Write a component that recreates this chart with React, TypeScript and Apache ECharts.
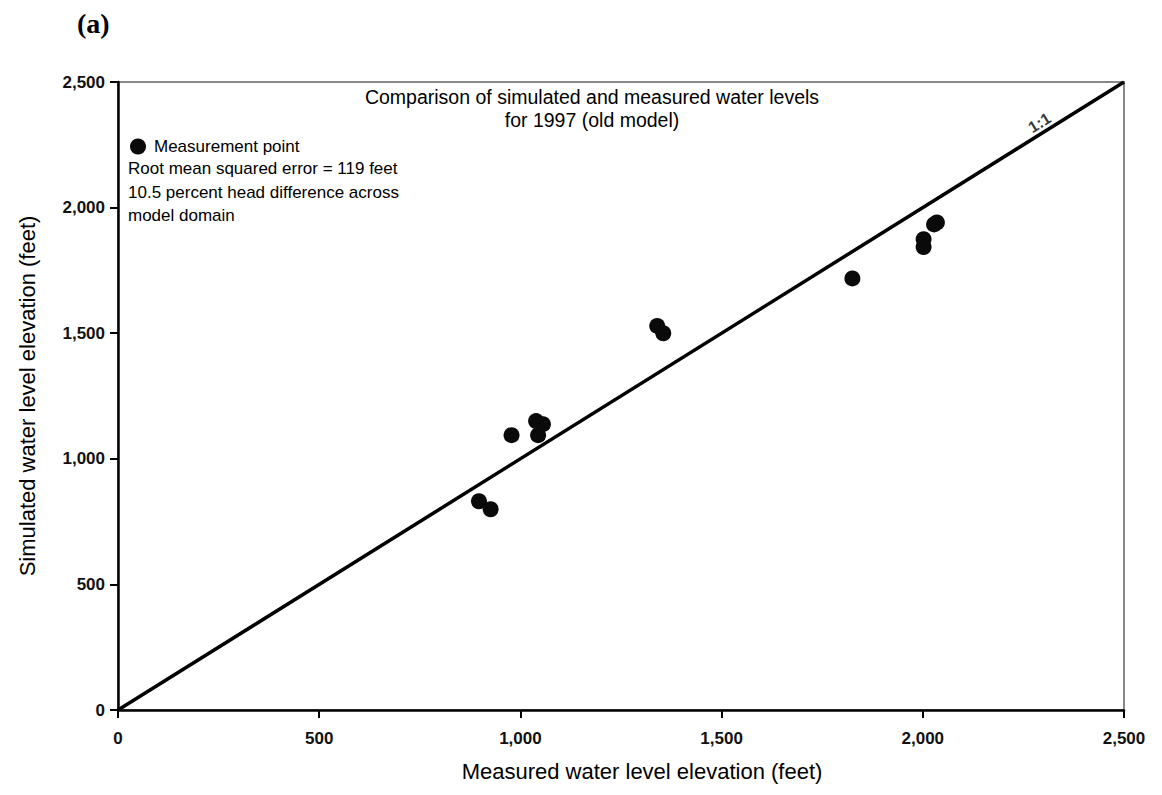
import React, { useEffect, useRef } from "react";
import * as echarts from "echarts";

const measured = [897, 926, 978, 1039, 1056, 1044, 1340, 1355, 1825, 2002, 2002, 2028, 2035];
const simulated = [831, 799, 1094, 1150, 1138, 1094, 1529, 1500, 1718, 1874, 1843, 1933, 1941];
const oneToOneX = [0, 2500];
const oneToOneY = [0, 2500];
const titleLines = ["Comparison of simulated and measured water levels", "for 1997 (old model)"];
const statLines = [
  "Root mean squared error = 119 feet",
  "10.5 percent head difference across",
  "model domain",
];

const FONT = "'Liberation Sans', Arial, sans-serif";

export default function App() {
  const ref = useRef<HTMLDivElement>(null);
  useEffect(() => {
    if (!ref.current) return;
    const chart = echarts.init(ref.current, null, { renderer: "svg" });
    const pts = measured.map((m, i) => [m, simulated[i]]);
    const line = oneToOneX.map((x, i) => [x, oneToOneY[i]]);
    chart.setOption({
      animation: false,
      backgroundColor: "#fff",
      textStyle: { fontFamily: FONT, color: "#000" },
      grid: {
        left: 96,
        top: 74,
        right: 30,
        bottom: 69,
        show: true,
        borderColor: "#888",
        borderWidth: 2,
        containLabel: false,
      },
      legend: {
        left: 117,
        top: 125,
        itemWidth: 16,
        itemHeight: 16,
        itemGap: 6,
        data: [{ name: "Measurement point", icon: "circle" }],
        textStyle: { fontFamily: FONT, fontSize: 17, color: "#000", padding: [0, 0, 0, 3] },
      },
      xAxis: {
        type: "value",
        min: 0,
        max: 2500,
        interval: 500,
        name: "Measured water level elevation (feet)",
        nameLocation: "middle",
        nameGap: 50,
        nameTextStyle: { fontFamily: FONT, fontSize: 22, color: "#000", padding: [0, 0, 0, 42] },
        axisLine: { lineStyle: { color: "#000", width: 2.5 } },
        axisTick: { show: true, length: 8, lineStyle: { color: "#000", width: 2 } },
        axisLabel: {
          fontFamily: FONT,
          fontSize: 17,
          fontWeight: "bold",
          color: "#111",
          margin: 20,
          formatter: (v: number) => v.toLocaleString("en-US"),
        },
        splitLine: { show: false },
      },
      yAxis: {
        type: "value",
        min: 0,
        max: 2500,
        interval: 500,
        name: "Simulated water level elevation (feet)",
        nameLocation: "middle",
        nameGap: 80,
        nameTextStyle: { fontFamily: FONT, fontSize: 22, color: "#000" },
        axisLine: { lineStyle: { color: "#000", width: 2.5 } },
        axisTick: { show: true, length: 8, lineStyle: { color: "#000", width: 2 } },
        axisLabel: {
          fontFamily: FONT,
          fontSize: 17,
          fontWeight: "bold",
          color: "#111",
          margin: 13,
          formatter: (v: number) => v.toLocaleString("en-US"),
        },
        splitLine: { show: false },
      },
      graphic: [
        {
          type: "text",
          left: 69,
          top: 1,
          style: {
            text: "(a)",
            font: "bold 28px 'Liberation Serif', 'Times New Roman', serif",
            fill: "#000",
          },
        },
        {
          type: "text",
          x: 584,
          y: 77,
          style: {
            text: titleLines.join("\n"),
            font: `19.5px ${FONT}`,
            lineHeight: 23,
            textAlign: "center",
            fill: "#000",
          },
        },
        {
          type: "text",
          x: 120,
          y: 149,
          style: {
            text: statLines.join("\n"),
            font: `17px ${FONT}`,
            lineHeight: 23.5,
            fill: "#000",
          },
        },
      ],
      series: [
        {
          name: "1:1 line",
          type: "line",
          data: line,
          symbol: "none",
          lineStyle: { color: "#000", width: 3.5 },
          z: 2,
          silent: true,
        },
        {
          name: "Measurement point",
          type: "scatter",
          data: pts,
          symbol: "circle",
          symbolSize: 16,
          itemStyle: { color: "#0a0a0a", opacity: 1 },
          z: 3,
        },
        {
          name: "label11",
          type: "scatter",
          data: [[2290, 2338]],
          symbolSize: 0,
          label: {
            show: true,
            position: "inside",
            formatter: "1:1",
            rotate: 32,
            fontFamily: FONT,
            fontSize: 16,
            fontWeight: "bold",
            color: "#000",
          },
          silent: true,
        },
      ],
    });
    return () => chart.dispose();
  }, []);
  return <div ref={ref} style={{ width: 1146, height: 779 }} />;
}
